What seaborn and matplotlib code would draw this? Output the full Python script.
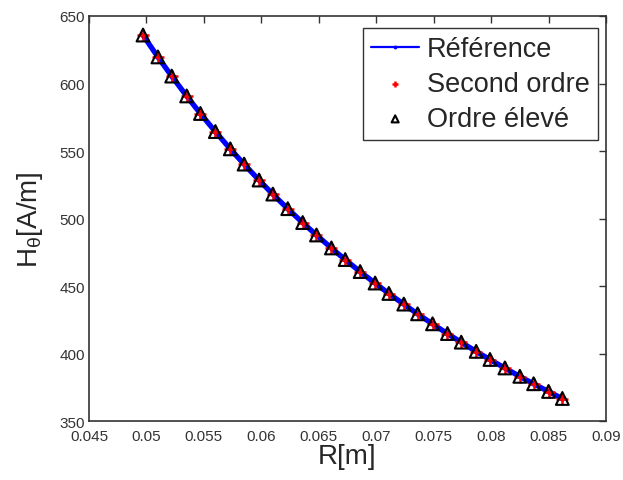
import numpy as np
import pandas as pd
import matplotlib
matplotlib.use('Agg')
import matplotlib.pyplot as plt
import seaborn as sns

r_vals = [0.0497, 0.0510, 0.0522, 0.0535, 0.0547, 0.0560, 0.0573, 0.0585, 0.0598, 0.0610,
          0.0623, 0.0636, 0.0648, 0.0661, 0.0673, 0.0686, 0.0699, 0.0711, 0.0724, 0.0736,
          0.0749, 0.0762, 0.0774, 0.0787, 0.0799, 0.0812, 0.0825, 0.0837, 0.0850, 0.0862]
h_ref = [635.8, 619.6, 605.4, 590.7, 577.7, 564.3, 551.5, 540.2, 528.4, 518.0,
         507.2, 496.9, 487.7, 478.1, 469.5, 460.6, 452.1, 444.4, 436.5, 429.3,
         421.9, 414.7, 408.3, 401.5, 395.5, 389.2, 383.0, 377.5, 371.8, 366.6]
h_second = [635.6, 619.5, 605.2, 590.6, 577.5, 564.2, 551.3, 540.1, 528.3, 517.9,
            507.1, 496.8, 487.6, 478.0, 469.4, 460.5, 452.0, 444.3, 436.4, 429.2,
            421.8, 414.6, 408.2, 401.4, 395.4, 389.1, 382.9, 377.4, 371.7, 366.5]
h_high = [635.9, 619.7, 605.5, 590.8, 577.8, 564.4, 551.6, 540.3, 528.5, 518.1,
          507.3, 497.0, 487.8, 478.2, 469.6, 460.7, 452.2, 444.5, 436.6, 429.4,
          422.0, 414.8, 408.4, 401.6, 395.6, 389.3, 383.1, 377.6, 371.9, 366.7]

x_ticks = [0.045, 0.05, 0.055, 0.06, 0.065, 0.07, 0.075, 0.08, 0.085, 0.09]
x_labels = ['0.045', '0.05', '0.055', '0.06', '0.065', '0.07', '0.075', '0.08', '0.085', '0.09']
y_ticks = [350, 400, 450, 500, 550, 600, 650]

sns.set_style('white')
plt.rcParams['font.family'] = ['Liberation Sans', 'DejaVu Sans']

df = pd.DataFrame({'R': r_vals, 'ref': h_ref, 'second': h_second, 'high': h_high})

fig = plt.figure(figsize=(6.23, 4.81), dpi=100)
ax = fig.add_axes([89 / 623, 1 - 422 / 481, (606 - 89) / 623, (422 - 17) / 481])

sns.lineplot(data=df, x='R', y='ref', ax=ax, color='#0000ff', linewidth=3.8,
             marker='.', markersize=5, markeredgecolor='#0000ff', label='Référence')
sns.scatterplot(data=df, x='R', y='second', ax=ax, color='red', marker='+',
                s=80, linewidth=1.8, label='Second ordre', zorder=3)
sns.scatterplot(data=df, x='R', y='high', ax=ax, marker='^', s=85,
                facecolor='none', edgecolor='black', linewidth=1.5,
                label='Ordre élevé', zorder=4)

ax.set_xlim(0.045, 0.09)
ax.set_ylim(350, 650)
ax.set_xticks(x_ticks)
ax.set_xticklabels(x_labels)
ax.set_yticks(y_ticks)
ax.tick_params(direction='in', top=True, right=True, length=5, width=1,
               labelsize=11, colors='#333333', pad=3)
ax.tick_params(axis='x', pad=6)
for s in ax.spines.values():
    s.set_color('#333333')
    s.set_linewidth(1.2)

ax.set_xlabel('R[m]', fontsize=20, labelpad=0)
ax.set_ylabel(r'H$_\mathregular{θ}$[A/m]', fontsize=20, labelpad=10)

leg = ax.legend(loc='upper right', bbox_to_anchor=(0.9845, 0.9704), fontsize=19.5,
                frameon=True, fancybox=False, edgecolor='black', borderaxespad=0,
                handlelength=1.75, handletextpad=0.3, labelspacing=0.33,
                borderpad=0.3, markerscale=0.55)
leg.get_frame().set_linewidth(1.0)
leg.legend_handles[0].set_linewidth(1.6)
leg.legend_handles[0].set_markersize(4)

fig.savefig('out.png', dpi=100)
